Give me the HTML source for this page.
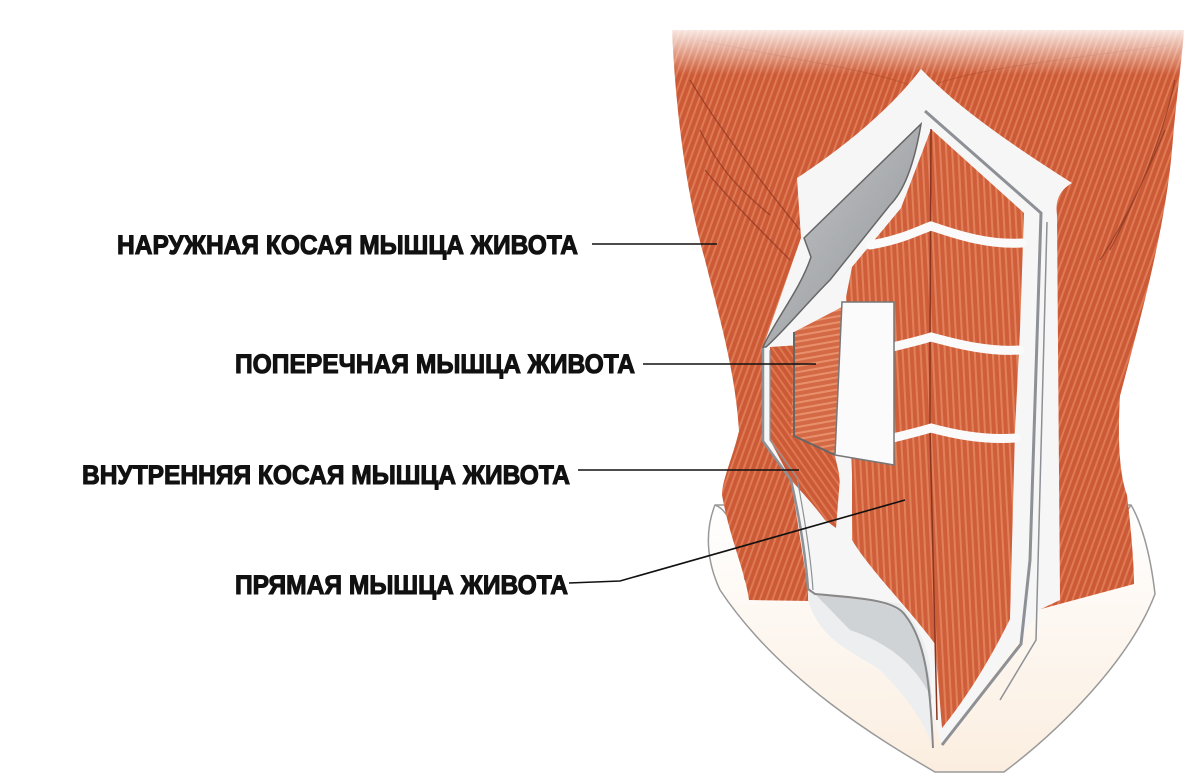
<!DOCTYPE html>
<html><head><meta charset="utf-8"><style>
html,body{margin:0;padding:0;background:#fff;width:1199px;height:777px;overflow:hidden}
text{font-family:"Liberation Sans Narrow","Liberation Sans",sans-serif;font-weight:bold;fill:#111;stroke:#111;stroke-width:1.1}
</style></head><body>
<svg width="1199" height="777" viewBox="0 0 1199 777" xmlns="http://www.w3.org/2000/svg">
<defs>
<linearGradient id="topfade" x1="0" y1="0" x2="0" y2="1">
<stop offset="0" stop-color="#fff" stop-opacity="1"/><stop offset="0.4" stop-color="#fff" stop-opacity="0.85"/><stop offset="1" stop-color="#fff" stop-opacity="0"/>
</linearGradient>
<linearGradient id="skin" x1="0" y1="0" x2="0" y2="1">
<stop offset="0" stop-color="#fff"/><stop offset="1" stop-color="#fbeee0"/>
</linearGradient>
<pattern id="fib" width="6" height="6" patternUnits="userSpaceOnUse" patternTransform="rotate(20)">
<rect width="6" height="6" fill="#cc5a36"/><rect width="2" height="6" fill="#de7a54"/>
</pattern>
<pattern id="fibv" width="6" height="6" patternUnits="userSpaceOnUse" patternTransform="rotate(-3)">
<rect width="6" height="6" fill="#cf5f3a"/><rect width="2" height="6" fill="#e2805a"/>
</pattern>
<pattern id="fibo" width="6" height="6" patternUnits="userSpaceOnUse" patternTransform="rotate(-35)">
<rect width="6" height="6" fill="#cc5a36"/><rect width="2" height="6" fill="#dd7752"/>
</pattern>
<pattern id="fibt" width="6" height="6" patternUnits="userSpaceOnUse" patternTransform="rotate(80)">
<rect width="6" height="6" fill="#d46a45"/><rect width="2" height="6" fill="#e8906c"/>
</pattern>
<linearGradient id="grey" x1="0" y1="0" x2="1" y2="1">
<stop offset="0" stop-color="#c8cacd"/><stop offset="1" stop-color="#8f9296"/>
</linearGradient>
</defs>

<!-- pelvis / skin lower region -->
<path d="M715,505 C705,530 706,560 720,590 C780,680 880,740 935,772 L1004,772 C1060,730 1130,660 1155,594 C1150,550 1140,520 1131,505 Z" fill="url(#skin)" stroke="#999" stroke-width="1.5"/>
<path d="M715,505 C730,510 740,540 745,580" fill="none" stroke="#999" stroke-width="1.5"/>
<path d="M1131,505 C1120,520 1112,550 1115,580" fill="none" stroke="#999" stroke-width="1.5"/>

<!-- main muscle torso -->
<path d="M672,30 C676,120 688,200 705,260 C720,320 735,370 739,431 C732,460 722,480 722,495 C730,540 745,570 749,600 L810,601 L1041,609 L1134,584 C1134,560 1130,520 1127,495 C1118,470 1118,430 1120,396 C1140,320 1165,230 1172,150 C1176,100 1182,60 1184,30 Z" fill="url(#fib)"/>
<path d="M690,80 C720,130 760,180 800,230 M700,130 C720,170 740,190 770,215 M705,170 C730,200 760,230 790,260" stroke="#8a3520" stroke-width="1.3" fill="none" opacity="0.7"/>
<path d="M1175,80 C1160,150 1130,210 1110,250 M1165,130 C1140,190 1120,230 1100,260" stroke="#8a3520" stroke-width="1.3" fill="none" opacity="0.7"/>
<path d="M700,40 C790,60 880,70 921,90 C960,70 1060,60 1170,45" stroke="#b04a2c" stroke-width="1" fill="none" opacity="0.6"/>

<rect x="660" y="0" width="539" height="75" fill="url(#topfade)"/>

<!-- white aponeurosis -->
<path d="M921,69 C960,110 1020,150 1072,183 C1060,190 1055,200 1057,215 L1060,600 L1041,609 L942,745 L900,604 L815,594 L808,589 L791,480 L763,441 L763,347 L801,238 L797,178 C840,150 890,110 921,69 Z" fill="#f7f6f6"/>

<path d="M925,111 L1041,213 L1030,560 L1021,644 L942,745" fill="none" stroke="#8d9095" stroke-width="3"/>
<path d="M1047,222 L1036,640 L1000,700" fill="none" stroke="#8d9095" stroke-width="1.5"/>

<!-- rectus -->
<path d="M931,129 L1024,213 L1020,330 L1015,430 L1010,619 C990,660 965,700 942,728 L935,644 C910,610 870,570 852,540 L852,475 L846,297 L852,267 L901,208 Z" fill="url(#fibv)"/>
<path d="M931,129 L930,340 L930,430 L937,720" stroke="#8a3520" stroke-width="1.5" fill="none"/>
<path d="M870,245 C900,240 915,232 931,226 C960,236 990,245 1022,243" stroke="#fafafa" stroke-width="9" fill="none" stroke-linecap="round"/>
<path d="M880,350 C900,345 915,342 931,337 C960,345 990,352 1020,350" stroke="#fafafa" stroke-width="9" fill="none" stroke-linecap="round"/>
<path d="M885,440 C905,435 918,432 931,428 C960,436 990,440 1016,438" stroke="#fafafa" stroke-width="9" fill="none" stroke-linecap="round"/>

<!-- lower left sheath -->
<path d="M808,589 L815,594 C840,600 880,598 900,604 C915,620 925,640 930,665 L933,748 C925,720 900,690 880,670 C850,650 820,640 808,600 Z" fill="#eceef0"/>
<path d="M815,594 C860,598 890,602 905,615 C920,635 928,660 932,700 C915,660 880,640 850,630 Z" fill="#c9ccd0" opacity="0.8"/>
<path d="M808,589 L815,594 C860,598 895,600 905,615 C925,640 930,680 933,748" fill="none" stroke="#888" stroke-width="2"/>

<!-- internal oblique -->
<path d="M770,347 L800,345 L805,440 L835,456 L840,478 L836,528 L825,520 C810,500 795,485 791,480 L770,440 Z" fill="url(#fibo)"/>
<path d="M839,475 L852,475 L852,540 L846,535 Z" fill="#f7f6f6"/>
<path d="M763,347 L763,441 L791,480 C800,520 806,560 808,589" fill="none" stroke="#8d9095" stroke-width="2.5"/>
<path d="M770,350 L770,440 L797,478 C805,520 811,560 813,590" fill="none" stroke="#8d9095" stroke-width="1.2"/>

<!-- transverse -->
<path d="M794,332 L842,307 L835,455 L791,436 Z" fill="url(#fibt)"/>
<path d="M794,332 L794,436 L835,455" fill="none" stroke="#666" stroke-width="2"/>
<path d="M842,302 L894,302 L894,465 L835,455 Z" fill="#fbfbfb" stroke="#777" stroke-width="1.5"/>

<!-- flap -->
<path d="M804,238 L921,124 C915,160 905,190 890,205 C870,230 850,255 830,280 C805,305 785,330 766,347 L763,347 C775,320 800,290 811,257 Z" fill="url(#grey)" stroke="#666" stroke-width="1.5"/>

<g stroke="#111" stroke-width="1.6" fill="none">
<line x1="592" y1="244" x2="717" y2="244"/>
<line x1="643" y1="364" x2="816" y2="364"/>
<line x1="578" y1="470" x2="799" y2="470"/>
<polyline points="569,583 620,581 905,500"/>
</g>

<text x="117" y="254" font-size="27" textLength="461" lengthAdjust="spacingAndGlyphs">НАРУЖНАЯ КОСАЯ МЫШЦА ЖИВОТА</text>
<text x="235" y="373" font-size="27" textLength="400" lengthAdjust="spacingAndGlyphs">ПОПЕРЕЧНАЯ МЫШЦА ЖИВОТА</text>
<text x="82" y="484" font-size="27" textLength="488" lengthAdjust="spacingAndGlyphs">ВНУТРЕННЯЯ КОСАЯ МЫШЦА ЖИВОТА</text>
<text x="235" y="594" font-size="27" textLength="333" lengthAdjust="spacingAndGlyphs">ПРЯМАЯ МЫШЦА ЖИВОТА</text>
</svg>
</body></html>
